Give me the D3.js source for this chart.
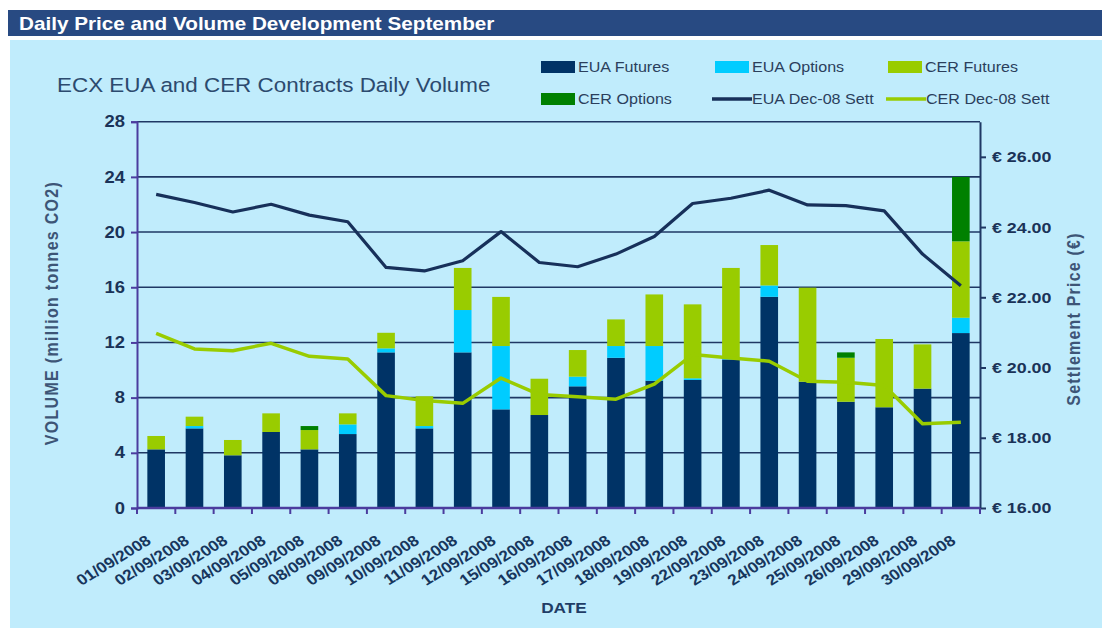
<!DOCTYPE html>
<html>
<head>
<meta charset="utf-8">
<script src="https://cdnjs.cloudflare.com/ajax/libs/d3/7.8.5/d3.min.js"></script>
<style>
  html, body { margin: 0; padding: 0; background: #fff; }
  svg { display: block; font-family: "Liberation Sans", Arial, sans-serif; }
</style>
</head>
<body>
<script>
const WIDTH = 1102;
const HEIGHT = 628;
const SX = 1.15; // the source picture is stretched sideways a little

const dates = ["01/09/2008", "02/09/2008", "03/09/2008", "04/09/2008", "05/09/2008",
  "08/09/2008", "09/09/2008", "10/09/2008", "11/09/2008", "12/09/2008", "15/09/2008",
  "16/09/2008", "17/09/2008", "18/09/2008", "19/09/2008", "22/09/2008", "23/09/2008",
  "24/09/2008", "25/09/2008", "26/09/2008", "29/09/2008", "30/09/2008"];

const euaFutures = [4.25, 5.77, 3.82, 5.51, 4.25, 5.36, 11.28, 5.77, 11.28, 7.15, 6.74,
  8.82, 10.89, 9.23, 9.28, 10.77, 15.31, 9.15, 7.7, 7.3, 8.65, 12.68];
const euaOptions = [0, 0.17, 0, 0, 0, 0.7, 0.29, 0.17, 3.07, 4.59, 0,
  0.7, 0.85, 2.51, 0.12, 0.1, 0.82, 0, 0, 0, 0, 1.11];
const cerFutures = [0.97, 0.68, 1.11, 1.35, 1.4, 0.8, 1.13, 2.16, 3.05, 3.56, 2.63,
  1.93, 1.93, 3.74, 5.36, 6.53, 2.93, 6.82, 3.19, 4.95, 3.21, 5.54];
const cerOptions = [0, 0, 0, 0, 0.29, 0, 0, 0, 0, 0, 0,
  0, 0, 0, 0, 0, 0, 0, 0.39, 0, 0, 4.67];

const euaSett = [24.93, 24.7, 24.43, 24.65, 24.34, 24.15, 22.85, 22.75, 23.04, 23.87, 22.99,
  22.87, 23.23, 23.73, 24.67, 24.82, 25.05, 24.63, 24.61, 24.46, 23.23, 22.33];
const cerSett = [20.97, 20.53, 20.48, 20.69, 20.32, 20.24, 19.2, 19.06, 18.98, 19.7, 19.23,
  19.17, 19.1, 19.53, 20.37, 20.27, 20.18, 19.61, 19.58, 19.49, 18.4, 18.44];

const volTicks = [0, 4, 8, 12, 16, 20, 24, 28];
const priceTicks = [16, 18, 20, 22, 24, 26];

const seriesKeys = ["EUA Futures", "EUA Options", "CER Futures", "CER Options"];
const seriesColor = {
  "EUA Futures": "#003366",
  "EUA Options": "#00ccff",
  "CER Futures": "#99cc00",
  "CER Options": "#008000"
};
const EUA_LINE = "#17305a";
const CER_LINE = "#99cc00";
const GRID = "#1f3864";
const AXIS_PURPLE = "#4b3c9e";
const TEXT_DARK = "#1a3358";

const rows = dates.map((d, i) => ({
  date: d,
  "EUA Futures": euaFutures[i],
  "EUA Options": euaOptions[i],
  "CER Futures": cerFutures[i],
  "CER Options": cerOptions[i]
}));

const plot = { left: 137, right: 980, top: 121.7, bottom: 508 };

const svg = d3.select("body")
              .append("svg")
              .attr("width", WIDTH)
              .attr("height", HEIGHT);

// page frame
svg.append("rect").attr("x", 10).attr("y", 40).attr("width", WIDTH - 10).attr("height", HEIGHT - 40)
   .attr("fill", "#c0ecfc");
svg.append("rect").attr("x", 8).attr("y", 10).attr("width", WIDTH - 8).attr("height", 26)
   .attr("fill", "#284a82");

const stretched = (x, y, txt, opts = {}) => {
  const t = svg.append("text")
     .attr("transform", `translate(${x},${y}) scale(${SX},1)` + (opts.rotate ? ` rotate(${opts.rotate})` : ""))
     .attr("font-size", opts.size || 14)
     .attr("font-weight", opts.bold ? "bold" : "normal")
     .attr("fill", opts.color || TEXT_DARK)
     .attr("text-anchor", opts.anchor || "start")
     .text(txt);
  if (opts.spacing) t.attr("letter-spacing", opts.spacing);
  return t;
};

stretched(19, 30, "Daily Price and Volume Development September", { size: 18, bold: true, color: "#ffffff" });
stretched(57, 92, "ECX EUA and CER Contracts Daily Volume", { size: 19.5, color: "#2c4a6e" });

const x = d3.scaleBand()
            .domain(dates)
            .range([plot.left, plot.right])
            .paddingInner(0.54)
            .paddingOuter(0.27);

const y = d3.scaleLinear()
            .domain([0, 28])
            .range([plot.bottom, plot.top]);

const y2 = d3.scaleLinear()
             .domain([16, 27])
             .range([plot.bottom, plot.top]);

// gridlines
svg.append("g")
   .selectAll("line")
   .data(volTicks.filter(v => v > 0))
   .join("line")
   .attr("x1", plot.left)
   .attr("x2", plot.right)
   .attr("y1", d => y(d))
   .attr("y2", d => y(d))
   .attr("stroke", GRID)
   .attr("stroke-width", 1.6);

// stacked bars
const stacked = d3.stack().keys(seriesKeys)(rows);

svg.append("g")
   .selectAll("g")
   .data(stacked)
   .join("g")
   .attr("fill", d => seriesColor[d.key])
   .selectAll("rect")
   .data(d => d)
   .join("rect")
   .attr("x", d => x(d.data.date))
   .attr("width", x.bandwidth())
   .attr("y", d => y(d[1]))
   .attr("height", d => y(d[0]) - y(d[1]));

// left axis
const leftAxis = svg.append("g")
   .attr("transform", `translate(${plot.left},0)`)
   .call(d3.axisLeft(y).tickValues(volTicks).tickSize(6).tickPadding(0));
leftAxis.select(".domain").attr("stroke", AXIS_PURPLE).attr("stroke-width", 2);
leftAxis.selectAll(".tick line").attr("stroke", AXIS_PURPLE).attr("stroke-width", 2);
leftAxis.selectAll("text")
   .attr("x", -12 / SX)
   .attr("transform", `scale(${SX},1)`)
   .attr("font-size", 16)
   .attr("font-weight", "bold")
   .attr("font-family", "Liberation Sans, Arial, sans-serif")
   .attr("fill", TEXT_DARK);

// right axis
const rightAxis = svg.append("g")
   .attr("transform", `translate(${plot.right},0)`)
   .call(d3.axisRight(y2).tickValues(priceTicks).tickSize(6).tickSizeOuter(0)
          .tickFormat(d => "€ " + d.toFixed(2)));
rightAxis.select(".domain").attr("stroke", GRID).attr("stroke-width", 2);
rightAxis.selectAll(".tick line").attr("stroke", GRID).attr("stroke-width", 2);
rightAxis.selectAll("text")
   .attr("x", 12 / SX)
   .attr("transform", `scale(${SX},1)`)
   .attr("font-size", 15.5)
   .attr("font-weight", "bold")
   .attr("font-family", "Liberation Sans, Arial, sans-serif")
   .attr("fill", TEXT_DARK);

// bottom axis: line, boundary ticks, rotated date labels
const bottom = svg.append("g");
bottom.append("line")
   .attr("x1", plot.left).attr("x2", plot.right)
   .attr("y1", plot.bottom).attr("y2", plot.bottom)
   .attr("stroke", AXIS_PURPLE).attr("stroke-width", 2.5);
const bounds = dates.map(d => x(d) + x.bandwidth() / 2 - x.step() / 2)
                    .concat([x(dates[dates.length - 1]) + x.bandwidth() / 2 + x.step() / 2]);
bottom.selectAll("line.tk")
   .data(bounds)
   .join("line")
   .attr("class", "tk")
   .attr("x1", d => d).attr("x2", d => d)
   .attr("y1", plot.bottom).attr("y2", plot.bottom + 6)
   .attr("stroke", AXIS_PURPLE).attr("stroke-width", 2);

dates.forEach(d => {
  stretched(x(d) + x.bandwidth() / 2 - 4, plot.bottom + 35, d,
            { size: 15, bold: true, anchor: "end", rotate: -35, color: "#17365d" });
});

stretched(564, 613, "DATE", { size: 15, bold: true, anchor: "middle", color: "#1f3d66" });

// axis titles
stretched(58, 313, "VOLUME (million tonnes CO2)",
          { size: 16, bold: true, anchor: "middle", rotate: -90, color: "#3d5576", spacing: 1.3 });
stretched(1080, 319, "Settlement Price (€)",
          { size: 16, bold: true, anchor: "middle", rotate: -90, color: "#3d5576", spacing: 1.2 });

// settlement lines
const lineGen = vals => d3.line()
   .x((v, i) => x(dates[i]) + x.bandwidth() / 2)
   .y(v => y2(v))(vals);

svg.append("path")
   .attr("d", lineGen(euaSett))
   .attr("fill", "none")
   .attr("stroke", EUA_LINE)
   .attr("stroke-width", 3.2)
   .attr("stroke-linejoin", "round");

svg.append("path")
   .attr("d", lineGen(cerSett))
   .attr("fill", "none")
   .attr("stroke", CER_LINE)
   .attr("stroke-width", 3.5)
   .attr("stroke-linejoin", "round");

// legend
const legendItems = [
  { name: "EUA Futures", type: "rect", color: seriesColor["EUA Futures"], x: 541, y: 67 },
  { name: "EUA Options", type: "rect", color: seriesColor["EUA Options"], x: 715, y: 67 },
  { name: "CER Futures", type: "rect", color: seriesColor["CER Futures"], x: 888, y: 67 },
  { name: "CER Options", type: "rect", color: seriesColor["CER Options"], x: 541, y: 99 },
  { name: "EUA Dec-08 Sett", type: "line", color: EUA_LINE, x: 712, y: 99 },
  { name: "CER Dec-08 Sett", type: "line", color: CER_LINE, x: 886, y: 99 }
];

legendItems.forEach(it => {
  if (it.type === "rect") {
    svg.append("rect")
       .attr("x", it.x).attr("y", it.y - 6)
       .attr("width", 34).attr("height", 12)
       .attr("fill", it.color);
    stretched(it.x + 37, it.y + 5, it.name, { size: 14, color: "#2b3f5c" });
  } else {
    svg.append("line")
       .attr("x1", it.x).attr("x2", it.x + 40)
       .attr("y1", it.y).attr("y2", it.y)
       .attr("stroke", it.color).attr("stroke-width", 3.5);
    stretched(it.x + 40, it.y + 5, it.name, { size: 14, color: "#2b3f5c" });
  }
});
</script>
</body>
</html>
